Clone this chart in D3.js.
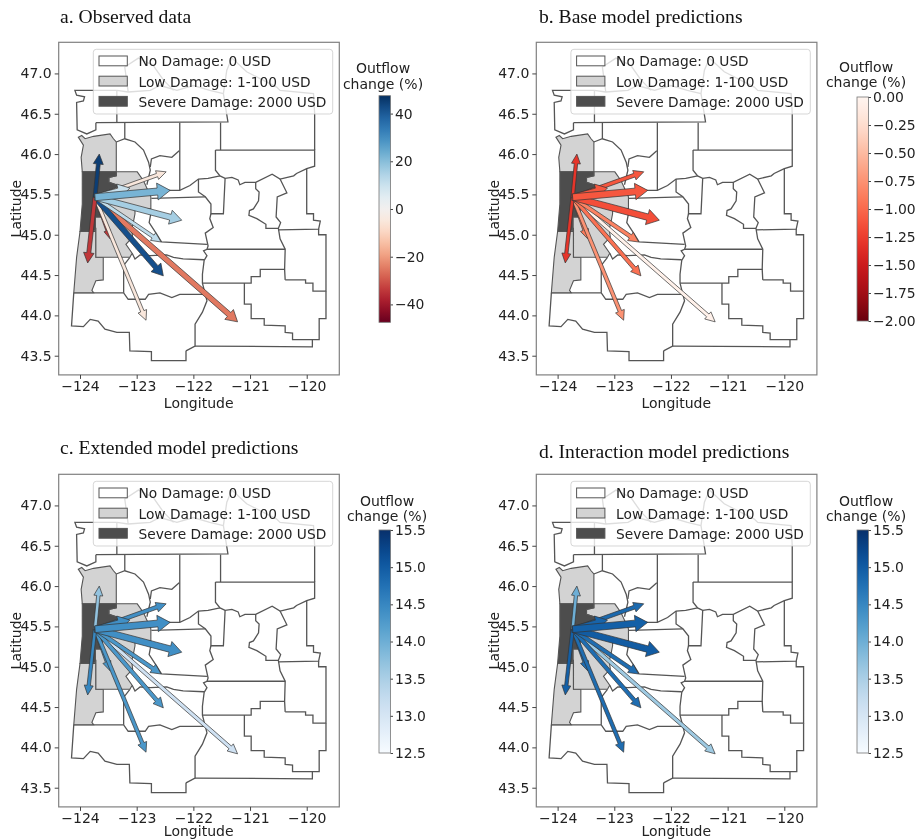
<!DOCTYPE html>
<html>
<head>
<meta charset="utf-8">
<script src="https://cdn.jsdelivr.net/npm/d3@7"></script>
<style>
  html, body { margin: 0; padding: 0; background: #fff; }
  svg { display: block; filter: blur(0.45px); }
  text { font-family: "DejaVu Sans", sans-serif; fill: #222; }
  .title { font-family: "Liberation Serif", serif; font-size: 19.6px; fill: #111; }
</style>
</head>
<body>
<svg id="chart" width="918" height="840"></svg>
<script>
// counties, [lon, lat]
const lowNorth = [[-124.03,46.21],[-123.97,46.23],[-123.91,46.19],[-123.76,46.22],[-123.47,46.25],[-123.41,46.19],[-123.36,46.15],[-123.36,45.78],[-123.96,45.78],[-123.98,45.96],[-123.94,46.11]]
const lowSouth = [[-124.00,45.04],[-123.72,45.04],[-123.72,44.72],[-123.59,44.72],[-123.59,44.44],[-123.72,44.43],[-123.79,44.31],[-123.76,44.28],[-124.11,44.28],[-124.06,44.72]]
const lowEast = [[-123.72,45.08],[-123.72,44.72],[-123.12,44.72],[-123.08,44.77],[-123.19,44.88],[-123.07,44.97],[-123.09,45.07],[-123.06,45.15],[-123.03,45.26],[-123.03,45.34],[-122.75,45.32],[-122.75,45.47],[-122.88,45.67],[-122.99,45.78],[-123.36,45.78],[-123.36,45.73],[-123.49,45.71],[-123.49,45.65],[-123.32,45.61],[-123.50,45.47],[-123.59,45.38],[-123.62,45.22],[-123.73,45.22],[-123.73,45.08]]
const severe = [[-123.96,45.78],[-123.36,45.78],[-123.36,45.73],[-123.49,45.71],[-123.49,45.65],[-123.32,45.61],[-123.50,45.47],[-123.59,45.38],[-123.62,45.22],[-123.73,45.22],[-123.73,45.05],[-124.00,45.04],[-123.96,45.38]]

// the rest of the county borders, as open lines
const borders = [
  [[-123.35,46.79],[-124.09,46.79],[-124.06,46.73],[-123.92,46.71],[-123.94,46.66],[-124.06,46.64],[-124.05,46.30],[-123.88,46.25],[-123.72,46.30],[-123.72,46.39]],
  [[-123.35,46.79],[-123.35,46.39]],
  [[-123.72,46.39],[-121.39,46.40],[-121.47,46.75],[-121.41,47.04],[-121.32,47.19],[-121.06,47.02],[-120.53,46.83],[-120.47,46.79],[-119.88,46.75],[-119.86,46.50],[-119.86,46.05]],
  [[-123.35,46.79],[-123.15,46.77],[-122.76,46.79],[-122.59,46.85],[-122.29,46.79],[-122.00,46.85],[-121.71,46.79],[-121.47,46.75]],
  [[-123.15,46.77],[-123.21,47.08],[-122.97,47.19],[-122.71,47.10],[-122.53,46.92],[-122.35,46.79]],
  [[-123.21,46.39],[-123.21,46.19]],
  [[-122.24,46.39],[-122.24,45.55]],
  [[-121.52,46.39],[-121.52,46.05]],
  [[-123.36,46.15],[-123.21,46.19],[-123.03,46.15],[-122.88,46.05],[-122.79,45.90],[-122.76,45.80],[-122.82,45.62]],
  [[-122.76,45.84],[-122.74,45.94],[-122.59,45.98],[-122.38,45.96],[-122.25,46.04]],
  [[-122.82,45.56],[-122.41,45.55],[-122.24,45.55],[-122.06,45.61],[-121.91,45.69],[-121.74,45.70],[-121.53,45.73]],
  [[-121.61,46.05],[-119.86,46.05],[-119.86,45.85],[-120.00,45.82],[-120.18,45.76],[-120.23,45.73],[-120.47,45.69],[-120.61,45.75],[-120.90,45.65],[-121.09,45.65],[-121.18,45.62],[-121.21,45.68],[-121.32,45.71],[-121.44,45.70],[-121.53,45.73],[-121.61,45.80],[-121.61,46.05]],
  [[-121.91,45.69],[-121.91,45.53],[-121.79,45.47],[-121.69,45.38],[-121.69,45.26],[-121.47,45.26],[-121.44,45.70]],
  [[-122.74,45.45],[-121.79,45.47]],
  [[-121.69,45.26],[-121.71,45.20],[-121.65,45.09],[-121.79,45.02],[-121.74,44.86],[-121.76,44.82],[-121.82,44.80],[-121.76,44.74],[-121.81,44.68],[-121.84,44.51],[-121.84,44.40],[-121.76,44.18],[-121.84,44.04],[-121.97,43.89],[-121.97,43.62],[-122.13,43.56]],
  [[-122.74,45.30],[-122.78,45.15],[-122.65,45.01],[-122.56,44.91],[-121.76,44.88]],
  [[-121.76,44.82],[-120.38,44.82]],
  [[-120.90,45.65],[-120.90,45.57],[-120.84,45.53],[-120.85,45.42],[-120.94,45.32],[-121.01,45.30],[-121.02,45.24],[-120.88,45.20],[-120.72,45.13],[-120.72,45.08],[-120.50,45.08]],
  [[-120.47,45.69],[-120.35,45.52],[-120.52,45.47],[-120.54,45.22],[-120.46,45.15],[-120.50,45.08],[-120.47,44.95],[-120.38,44.82],[-120.39,44.57],[-120.38,44.44]],
  [[-120.00,45.82],[-120.00,45.26],[-119.88,45.26],[-119.88,45.18],[-119.76,45.17],[-119.79,45.07],[-120.50,45.06]],
  [[-119.79,45.07],[-119.79,45.00],[-119.66,45.00],[-119.66,44.30],[-119.89,44.30],[-119.89,44.40],[-120.02,44.40],[-120.02,44.44],[-120.38,44.44]],
  [[-120.39,44.57],[-120.82,44.57],[-120.82,44.48],[-120.98,44.48],[-120.98,44.40],[-121.84,44.40]],
  [[-121.10,44.40],[-121.10,44.14],[-120.98,44.14],[-120.98,43.96],[-120.75,43.96],[-120.75,43.88],[-120.38,43.87],[-120.38,43.79],[-120.25,43.78],[-120.25,43.70],[-119.90,43.70],[-119.90,43.61],[-121.97,43.62]],
  [[-119.90,43.70],[-119.78,43.70],[-119.78,43.96],[-119.66,43.96],[-119.66,44.30]],
  [[-124.11,44.28],[-123.23,44.28],[-123.15,44.20],[-122.85,44.20],[-122.79,44.26],[-122.59,44.28],[-122.38,44.22],[-122.24,44.26],[-121.76,44.26]],
  [[-124.11,44.28],[-124.15,43.87],[-123.94,43.86],[-123.82,43.95],[-123.68,43.93],[-123.56,43.83],[-123.35,43.79],[-123.13,43.79],[-123.12,43.56],[-122.74,43.55],[-122.74,43.44],[-122.13,43.44],[-122.13,43.56]],
  [[-123.12,44.72],[-123.23,44.62],[-123.23,44.28]],
  [[-123.08,44.77],[-123.03,44.70],[-122.94,44.75],[-122.76,44.74],[-122.47,44.75],[-122.35,44.72],[-122.18,44.70],[-121.81,44.69]]
]

// flows leave one county, listed in drawing order
const originLon = -123.735
const originLat = 45.465
const destLon = [-123.47,-121.22,-122.835,-122.53,-123.865,-123.66,-122.48,-123.12,-122.57,-122.205,-122.41]
const destLat = [44.95,43.92,43.94,44.49,44.65,46.0,45.78,45.58,44.91,45.18,45.55]

// outflow change per arrow
const observedChange = [-34,-25,-5,42,-34,45,-5,10,12,16,22]
const baseChange = [-0.9,-0.05,-0.75,-0.95,-1.3,-1.3,-1.1,-1.1,-0.85,-1.15,-1.1]
const extendedChange = [14.3,13.1,14.3,14.3,14.5,13.7,14.4,14.4,14.3,14.4,14.4]
const interactionChange = [14.8,13.6,14.8,14.8,14.95,14.0,14.85,14.9,14.8,15.0,14.95]

// flow size per arrow, sets the shaft width
const observedFlow = [20,45,30,45,35,33,30,50,30,50,60]
const modelFlow = [27,31,31,33,29,29,33,50,33,55,58]

const xTicks = [-124,-123,-122,-121,-120]
const yTicks = [47,46.5,46,45.5,45,44.5,44,43.5]
const observedTicks = [40,20,0,-20,-40]
const baseTicks = [0,-0.25,-0.5,-0.75,-1,-1.25,-1.5,-1.75,-2]
const modelTicks = [15.5,15,14.5,14,13.5,13,12.5]

const legendLabels = ['No Damage: 0 USD','Low Damage: 1-100 USD','Severe Damage: 2000 USD']
const legendFills = ['#fff','#d3d3d3','#4d4d4d']

const svg = d3.select('#chart')
const lineColor = '#555'
const panelW = 280.6
const panelH = 332.6

const panels = [
  { id: 'a', title: 'a. Observed data', tx: 60, ty: 23, left: 58.7, top: 42.3, change: observedChange, flow: observedFlow, xLabelGap: 33,
    domain: [-47.5, 47.5], cmap: d3.interpolateRdBu, ticks: observedTicks, fmt: d3.format('d'), barX: 379, barTop: 95.7, barBottom: 322.3, cbTitleX: 383, cbTitleY: 73, cbGap: 16 },
  { id: 'b', title: 'b. Base model predictions', tx: 539, ty: 23, left: 536.3, top: 42.3, change: baseChange, flow: modelFlow, xLabelGap: 33,
    domain: [-2, 0], cmap: t => d3.interpolateReds(1 - t), ticks: baseTicks, fmt: d3.format('.2f'), barX: 857, barTop: 97, barBottom: 321, cbTitleX: 866, cbTitleY: 72, cbGap: 15 },
  { id: 'c', title: 'c. Extended model predictions', tx: 60, ty: 454, left: 58.7, top: 474.3, change: extendedChange, flow: modelFlow, xLabelGap: 29.5,
    domain: [12.5, 15.5], cmap: d3.interpolateBlues, ticks: modelTicks, fmt: d3.format('.1f'), barX: 379, barTop: 530, barBottom: 753, cbTitleX: 387, cbTitleY: 506, cbGap: 14.5 },
  { id: 'd', title: 'd. Interaction model predictions', tx: 539, ty: 458, left: 536.3, top: 474.3, change: interactionChange, flow: modelFlow, xLabelGap: 29.5,
    domain: [12.5, 15.5], cmap: d3.interpolateBlues, ticks: modelTicks, fmt: d3.format('.1f'), barX: 857, barTop: 530, barBottom: 753, cbTitleX: 866, cbTitleY: 506, cbGap: 14.5 }
]

// shaft and head outline of one arrow, in pixels
function arrowPath(x0, y0, x1, y1, w) {
  const dx = x1 - x0, dy = y1 - y0
  const len = Math.hypot(dx, dy)
  const ux = dx / len, uy = dy / len
  const nx = -uy, ny = ux
  const headLen = 6.5 + w * 0.9
  const headW = 2.2 * w + 1.5
  const bx = x1 - ux * headLen, by = y1 - uy * headLen
  const p = [
    [x0 + nx * w / 2, y0 + ny * w / 2],
    [bx + nx * w / 2, by + ny * w / 2],
    [bx + nx * headW / 2, by + ny * headW / 2],
    [x1, y1],
    [bx - nx * headW / 2, by - ny * headW / 2],
    [bx - nx * w / 2, by - ny * w / 2],
    [x0 - nx * w / 2, y0 - ny * w / 2]
  ]
  return 'M' + p.join('L') + 'Z'
}

function drawPanel(cfg) {
  const g = svg.append('g').attr('transform', `translate(${cfg.left}, ${cfg.top})`)

  const x = d3.scaleLinear().domain([-124.376, -119.425]).range([0, panelW])
  const y = d3.scaleLinear().domain([43.262, 47.386]).range([panelH, 0])
  const widthScale = d3.scaleLinear().domain([0, 60]).range([0, 7])
  const color = d3.scaleSequential(cfg.cmap).domain(cfg.domain)
  const line = d3.line().x(d => x(d[0])).y(d => y(d[1]))

  svg.append('text').attr('class', 'title').attr('x', cfg.tx).attr('y', cfg.ty).text(cfg.title)

  g.append('g')
    .selectAll('path')
    .data(borders)
    .enter()
    .append('path')
    .attr('d', line)
    .attr('fill', 'none')
    .attr('stroke', lineColor)
    .attr('stroke-width', 1.3)

  const filled = [[lowNorth, legendFills[1]], [lowSouth, legendFills[1]], [lowEast, legendFills[1]], [severe, legendFills[2]]]
  g.append('g')
    .selectAll('path')
    .data(filled)
    .enter()
    .append('path')
    .attr('d', d => line(d[0]) + 'Z')
    .attr('fill', d => d[1])
    .attr('stroke', lineColor)
    .attr('stroke-width', 1.1)

  // legend sits over the map at 0.8 alpha, lines show through faintly
  const legend = g.append('g').attr('transform', 'translate(34.6, 7)')
  legend.append('rect')
    .attr('width', 239.4)
    .attr('height', 64.7)
    .attr('rx', 3)
    .attr('fill', '#fff')
    .attr('fill-opacity', 0.8)
    .attr('stroke', '#ccc')
    .attr('stroke-opacity', 0.8)
  const rows = legend.selectAll('g').data(legendLabels).enter().append('g')
    .attr('transform', (d, i) => `translate(5.7, ${6.7 + i * 20.2})`)
  rows.append('rect')
    .attr('width', 28.3)
    .attr('height', 9.8)
    .attr('fill', (d, i) => legendFills[i])
    .attr('stroke', lineColor)
  rows.append('text')
    .attr('x', 39.5)
    .attr('y', 10.4)
    .style('font-size', '13.75px')
    .text(d => d)

  g.append('g')
    .selectAll('path')
    .data(destLon)
    .enter()
    .append('path')
    .attr('d', (d, i) => arrowPath(x(originLon), y(originLat), x(d), y(destLat[i]), widthScale(cfg.flow[i])))
    .attr('fill', (d, i) => color(cfg.change[i]))
    .attr('stroke', '#333')
    .attr('stroke-width', 0.7)

  g.append('rect')
    .attr('width', panelW)
    .attr('height', panelH)
    .attr('fill', 'none')
    .attr('stroke', '#808080')
    .attr('stroke-width', 1.2)

  const xAxis = g.append('g')
    .attr('transform', `translate(0, ${panelH})`)
    .call(d3.axisBottom(x).tickValues(xTicks).tickFormat(d3.format('d')).tickSize(4).tickPadding(2))
  const yAxis = g.append('g')
    .call(d3.axisLeft(y).tickValues(yTicks).tickFormat(d3.format('.1f')).tickSize(4).tickPadding(3))
  for (const axis of [xAxis, yAxis]) {
    axis.select('.domain').remove()
    axis.selectAll('text').style('font-size', '14px').style('font-family', '"DejaVu Sans", sans-serif')
    axis.selectAll('line').attr('stroke', '#444')
  }

  g.append('text')
    .attr('x', panelW / 2 - 0.3)
    .attr('y', panelH + cfg.xLabelGap)
    .attr('text-anchor', 'middle')
    .style('font-size', '14px')
    .text('Longitude')
  g.append('text')
    .attr('transform', `translate(-37.5, ${panelH / 2}) rotate(-90)`)
    .attr('text-anchor', 'middle')
    .style('font-size', '14px')
    .text('Latitude')

  // colour bar
  const gradId = `grad-${cfg.id}`
  const stops = d3.range(0, 1.001, 0.05)
  svg.append('defs').append('linearGradient')
    .attr('id', gradId)
    .attr('x1', 0).attr('x2', 0).attr('y1', 1).attr('y2', 0)
    .selectAll('stop')
    .data(stops)
    .enter()
    .append('stop')
    .attr('offset', d => d)
    .attr('stop-color', d => cfg.cmap(d))

  const barW = 11.5
  const cb = svg.append('g').attr('transform', `translate(${cfg.barX}, 0)`)
  const cbScale = d3.scaleLinear().domain(cfg.domain).range([cfg.barBottom, cfg.barTop])
  cb.append('rect')
    .attr('y', cfg.barTop)
    .attr('width', barW)
    .attr('height', cfg.barBottom - cfg.barTop)
    .attr('fill', `url(#${gradId})`)
    .attr('stroke', '#777')
    .attr('stroke-width', 0.8)
  const cbAxis = cb.append('g')
    .attr('transform', `translate(${barW}, 0)`)
    .call(d3.axisRight(cbScale).tickValues(cfg.ticks).tickFormat(cfg.fmt).tickSize(2.5).tickPadding(2))
  cbAxis.select('.domain').remove()
  cbAxis.selectAll('text').style('font-size', '13.9px').style('font-family', '"DejaVu Sans", sans-serif')
  cbAxis.selectAll('line').attr('stroke', '#444')

  svg.append('text')
    .attr('x', cfg.cbTitleX).attr('y', cfg.cbTitleY)
    .attr('text-anchor', 'middle')
    .style('font-size', '14px')
    .text('Outflow')
  svg.append('text')
    .attr('x', cfg.cbTitleX).attr('y', cfg.cbTitleY + cfg.cbGap)
    .attr('text-anchor', 'middle')
    .style('font-size', '14px')
    .text('change (%)')
}

panels.forEach(drawPanel)
</script>
</body>
</html>
